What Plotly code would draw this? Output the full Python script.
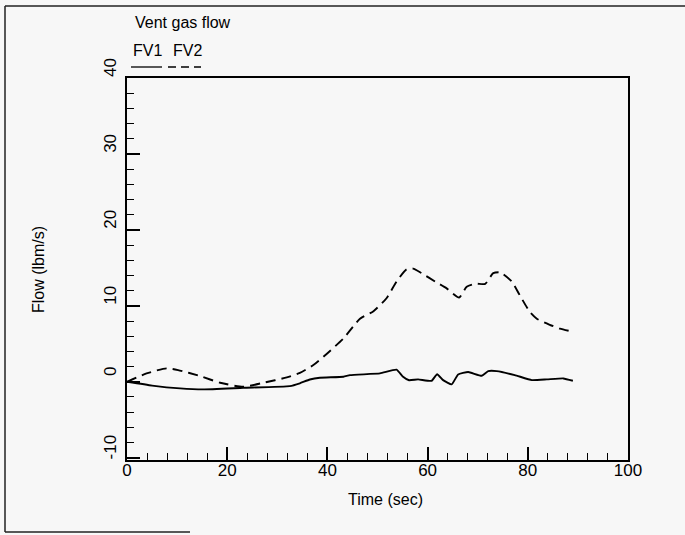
import plotly.graph_objects as go

# Time (sec) and flow (lbm/s)
fv1_t = [0, 5, 10.6, 15.2, 23.2, 32.5, 34.5, 36.5, 38.5, 43.2, 44.5, 50.5, 53.8, 55.1, 56.3,
         58.1, 60.8, 61.9, 63.1, 64.8, 66.1, 68.1, 70.8, 72.1, 73.8, 77.4, 80.8, 83.8, 87.1, 89]
fv1_y = [0, -0.5, -0.87, -1.0, -0.79, -0.57, -0.2, 0.3, 0.53, 0.66, 0.88, 1.1, 1.6, 0.66, 0.2,
         0.31, 0.13, 1.0, 0.22, -0.34, 0.97, 1.28, 0.79, 1.4, 1.4, 0.88, 0.22, 0.31, 0.44, 0.13]

fv2_t = [0, 3.9, 7.9, 10.2, 14.6, 18.6, 23.2, 27.2, 31.9, 34.5, 37.2, 39.9, 43.2, 46.5, 49.2,
         51.8, 53.8, 55.8, 57.1, 58.8, 61.5, 63.8, 66.3, 67.8, 69.5, 71.5, 73.1, 74.5, 76.8,
         78.4, 80.4, 81.8, 84.4, 86.4, 89]
fv2_y = [0, 1.1, 1.76, 1.54, 0.75, -0.13, -0.66, -0.13, 0.58, 1.18, 2.2, 3.7, 5.7, 8.3, 9.3,
         11.0, 13.2, 14.8, 14.9, 14.3, 13.2, 12.3, 11.1, 12.5, 12.9, 12.9, 14.3, 14.4, 13.2,
         11.4, 9.2, 8.3, 7.5, 7.0, 6.6]

x_ticks = [0, 20, 40, 60, 80, 100]
y_ticks = [-10, 0, 10, 20, 30, 40]

W, H = 685, 535
L, R, T, B = 127, 57, 78, 75
pw, ph = W - L - R, H - T - B


def px(x):
    return (x - L) / pw


def py(y):
    return (H - B - y) / ph


FONT = "Liberation Sans, Arial, Helvetica, sans-serif"

fig = go.Figure()
fig.add_trace(go.Scatter(x=fv1_t, y=fv1_y, mode="lines", name="FV1",
                         line=dict(color="black", width=1.9, shape="spline", smoothing=0.4)))
fig.add_trace(go.Scatter(x=fv2_t, y=fv2_y, mode="lines", name="FV2",
                         line=dict(color="black", width=1.9, dash="10px,6px", shape="spline", smoothing=0.6)))

axis_common = dict(showgrid=False, zeroline=False, showline=True, linecolor="black", linewidth=1.8,
                   mirror=True, ticks="inside", tickcolor="black", tickwidth=1.5, ticklen=13,
                   tickfont=dict(family=FONT, size=17, color="black"))

fig.update_xaxes(range=[0, 100], tickvals=x_ticks, ticktext=[str(v) for v in x_ticks],
                 ticklabelstandoff=-6,
                 minor=dict(dtick=4, ticks="inside", ticklen=7, tickcolor="black", tickwidth=1.3),
                 **axis_common)
fig.update_yaxes(range=[-10.3, 40], tickvals=y_ticks, ticktext=[str(v) for v in y_ticks],
                 tickangle=-90, ticklabelshift=-8, ticklabelstandoff=2,
                 minor=dict(dtick=2, ticks="inside", ticklen=7, tickcolor="black", tickwidth=1.3),
                 **axis_common)

ann = [
    dict(text="Time (sec)", x=px(385), y=py(500), xref="paper", yref="paper", showarrow=False,
         font=dict(family=FONT, size=16, color="black"), xanchor="center", yanchor="middle"),
    dict(text="Flow (lbm/s)", x=px(38), y=py(270), xref="paper", yref="paper", showarrow=False,
         textangle=-90, font=dict(family=FONT, size=16, color="black"), xanchor="center", yanchor="middle"),
    dict(text="Vent gas flow", x=px(133), y=py(23), xref="paper", yref="paper", showarrow=False,
         font=dict(family=FONT, size=16, color="black"), xanchor="left", yanchor="middle"),
    dict(text="FV1", x=px(147), y=py(51), xref="paper", yref="paper", showarrow=False,
         font=dict(family=FONT, size=16, color="black"), xanchor="center", yanchor="middle"),
    dict(text="FV2", x=px(187), y=py(51), xref="paper", yref="paper", showarrow=False,
         font=dict(family=FONT, size=16, color="black"), xanchor="center", yanchor="middle"),
]

shapes = [
    # legend samples
    dict(type="line", xref="paper", yref="paper", x0=px(131), x1=px(162), y0=py(67), y1=py(67),
         line=dict(color="black", width=1.3)),
    dict(type="line", xref="paper", yref="paper", x0=px(168), x1=px(201), y0=py(67), y1=py(67),
         line=dict(color="black", width=1.3, dash="8px,5px")),
    # outer frame (partial, as in the scanned page)
    dict(type="line", xref="paper", yref="paper", x0=px(5), x1=px(685), y0=py(6), y1=py(6),
         line=dict(color="#222", width=1.5)),
    dict(type="line", xref="paper", yref="paper", x0=px(5), x1=px(5), y0=py(6), y1=py(532),
         line=dict(color="#222", width=1.5)),
    dict(type="line", xref="paper", yref="paper", x0=px(5), x1=px(190), y0=py(532), y1=py(532),
         line=dict(color="#222", width=1.5)),
]

fig.update_layout(width=W, height=H, margin=dict(l=L, r=R, t=T, b=B),
                  paper_bgcolor="#f7f7f7", plot_bgcolor="#f7f7f7", showlegend=False,
                  annotations=ann, shapes=shapes,
                  font=dict(family=FONT, size=16, color="black"))

fig.write_html("out.html")
